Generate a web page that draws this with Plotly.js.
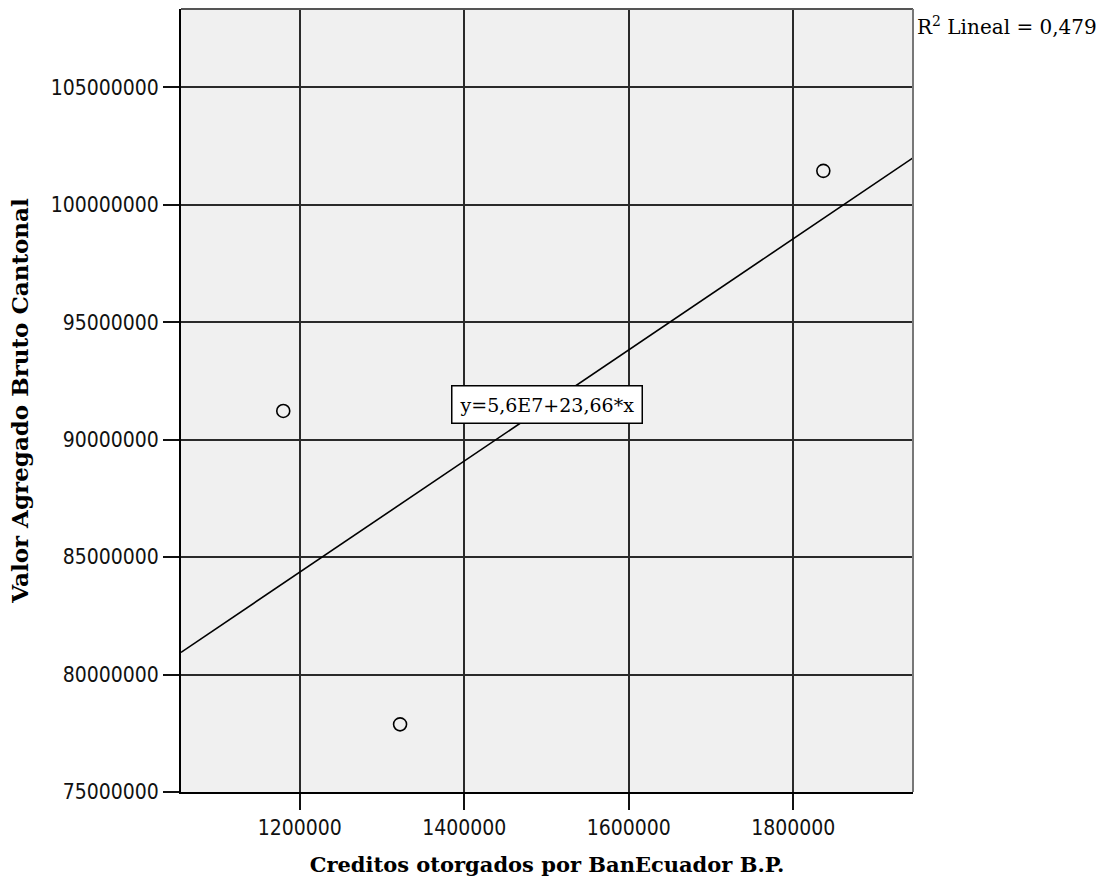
<!DOCTYPE html>
<html>
<head>
<meta charset="utf-8">
<script src="https://cdn.plot.ly/plotly-3.0.1.min.js"></script>
<style>html,body{margin:0;padding:0;background:#fff}#chart{width:1110px;height:885px}</style>
</head>
<body>
<div id="chart"></div>
<script>
// ---- data ----
var creditos = [1180000, 1322000, 1836500];          // Creditos otorgados por BanEcuador B.P.
var valorAgregado = [91220000, 77880000, 101440000];  // Valor Agregado Bruto Cantonal
var xTitle = "Creditos otorgados por BanEcuador B.P.";
var yTitle = "Valor Agregado Bruto Cantonal";
var equationLabel = "y=5,6E7+23,66*x";
var r2Label = "R<sup>2</sup> Lineal = 0,479";
var xRange = [1055700, 1945500];
var yRange = [75000000, 108330000];

// least squares fit from the data
var n = creditos.length;
var mx = creditos.reduce(function(a,b){return a+b;},0)/n;
var my = valorAgregado.reduce(function(a,b){return a+b;},0)/n;
var sxy = 0, sxx = 0;
for (var i=0;i<n;i++){ sxy += (creditos[i]-mx)*(valorAgregado[i]-my); sxx += (creditos[i]-mx)*(creditos[i]-mx); }
var slope = sxy/sxx, intercept = my - slope*mx;
var fitX = [xRange[0], xRange[1]];
var fitY = fitX.map(function(x){return intercept + slope*x;});

var tickFont = {family: "DejaVu Sans Condensed, DejaVu Sans, sans-serif", size: 21, color: "#111"};
var serifBoldX = {family: "DejaVu Serif, serif", size: 21, color: "#000", weight: "bold"};
var serifBoldY = {family: "DejaVu Serif, serif", size: 23, color: "#000", weight: "bold"};
var serifReg = {family: "DejaVu Serif, serif", size: 20, color: "#000"};

var traces = [
  {x: fitX, y: fitY, mode: "lines", type: "scatter", line: {color: "#000", width: 1.6}, hoverinfo: "skip", showlegend: false},
  {x: creditos, y: valorAgregado, mode: "markers", type: "scatter",
   marker: {symbol: "circle-open", size: 13, color: "#000", line: {color: "#000", width: 1.6}}, showlegend: false}
];

var layout = {
  width: 1110, height: 885,
  margin: {l: 181, r: 197, t: 9, b: 93},
  paper_bgcolor: "#fff",
  plot_bgcolor: "#f0f0f0",
  showlegend: false,
  xaxis: {
    range: xRange, dtick: 200000, tick0: 0, tickformat: "d",
    showgrid: true, gridcolor: "#2a2a2a", gridwidth: 2, zeroline: false,
    showline: true, linecolor: "#000", linewidth: 2,
    ticks: "outside", ticklen: 16, tickwidth: 2, tickcolor: "#111",
    tickfont: tickFont,
    title: {text: xTitle, font: serifBoldX, standoff: 18}
  },
  yaxis: {
    range: yRange, dtick: 5000000, tick0: 0, tickformat: "d",
    showgrid: true, gridcolor: "#2a2a2a", gridwidth: 2, zeroline: false,
    showline: true, linecolor: "#000", linewidth: 2,
    ticks: "outside", ticklen: 16, tickwidth: 2, tickcolor: "#111",
    tickfont: tickFont,
    title: {text: yTitle, font: serifBoldY, standoff: 16}
  },
  shapes: [
    {type: "line", xref: "paper", yref: "paper", x0: 0, x1: 1, y0: 1, y1: 1, line: {color: "#555", width: 2}},
    {type: "line", xref: "paper", yref: "paper", x0: 1, x1: 1, y0: 0, y1: 1, line: {color: "#777", width: 2}}
  ],
  annotations: [
    {xref: "paper", yref: "paper", x: 1, y: 1, xanchor: "left", yanchor: "top", xshift: 2, yshift: -2,
     text: r2Label, showarrow: false, font: serifReg},
    {x: 1500600, y: 91500000, text: equationLabel, showarrow: false,
     bgcolor: "#fff", bordercolor: "#000", borderwidth: 1.5, borderpad: 7,
     font: {family: "DejaVu Serif, serif", size: 19, color: "#000"}}
  ]
};

Plotly.newPlot("chart", traces, layout, {displayModeBar: false, staticPlot: true});
</script>
</body>
</html>
